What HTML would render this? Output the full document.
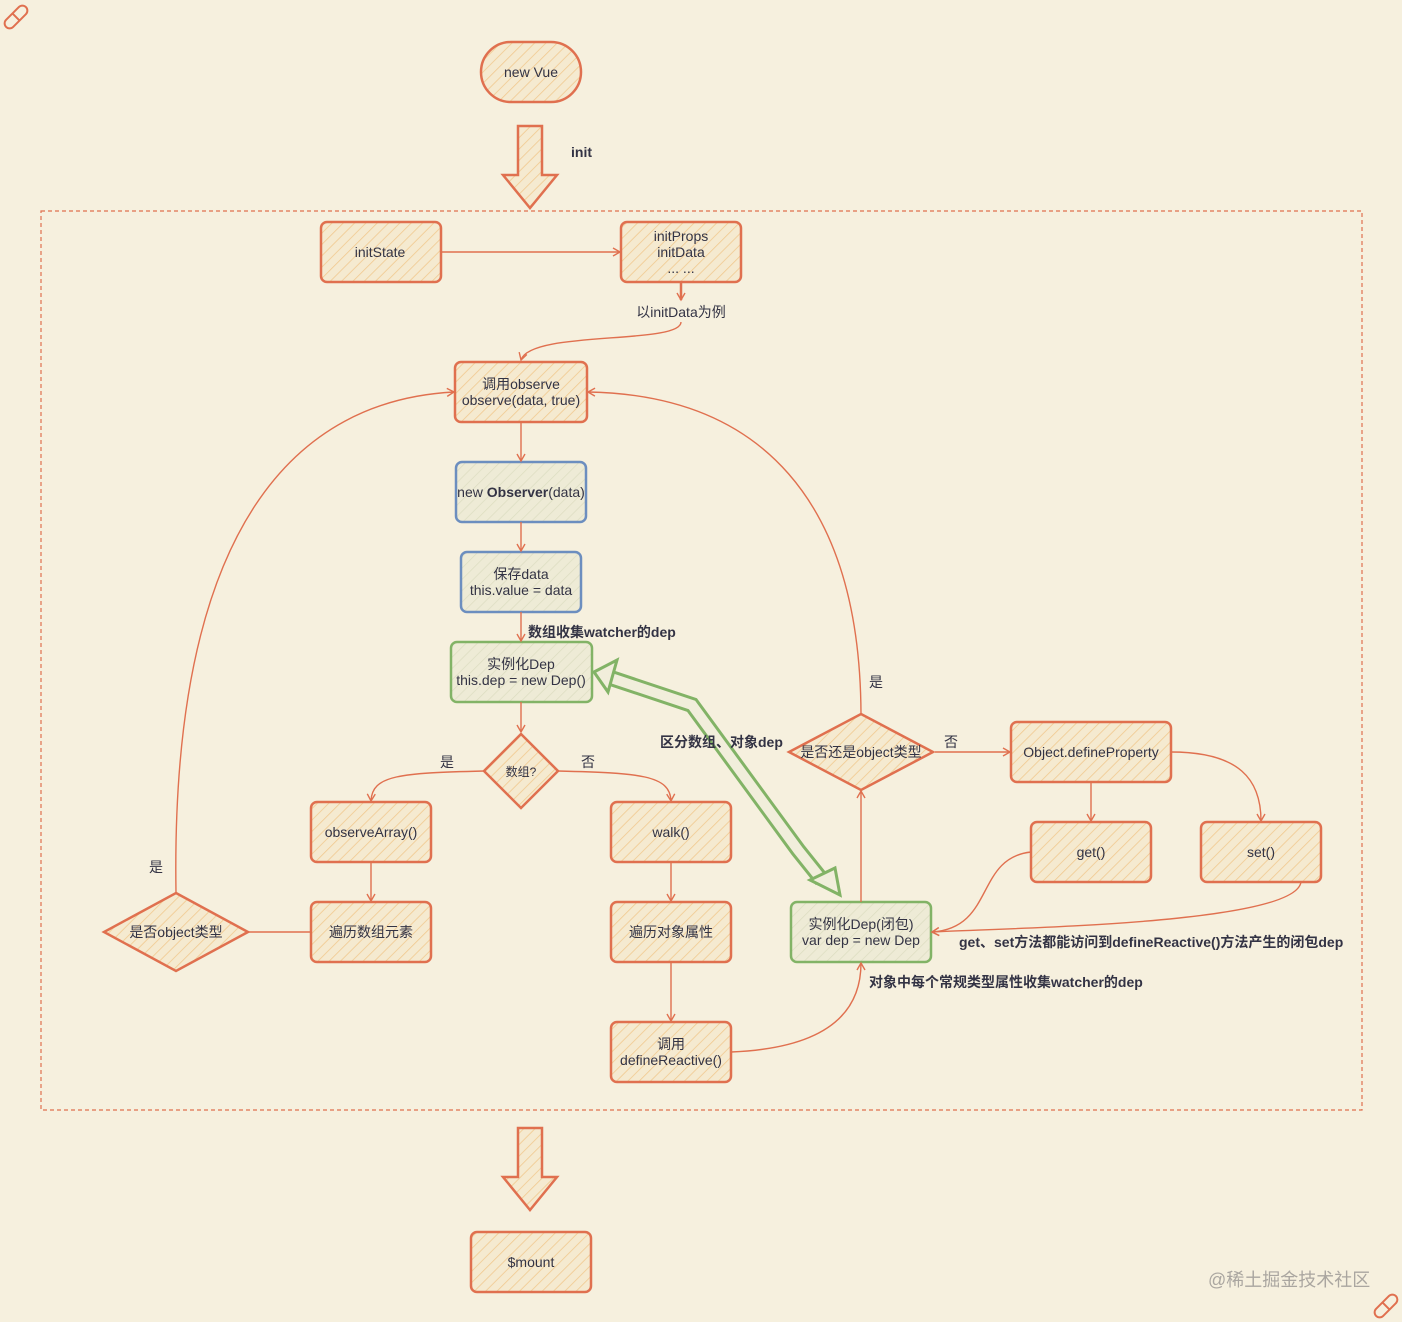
<!DOCTYPE html>
<html><head><meta charset="utf-8"><style>
html,body{margin:0;padding:0;background:#f6f0de;}
svg{display:block}
text{font-family:"Liberation Sans","Noto Sans CJK SC",sans-serif;fill:#333344;}
.b{font-weight:bold;}
</style></head><body>
<svg width="1402" height="1322" viewBox="0 0 1402 1322" xmlns="http://www.w3.org/2000/svg">
<defs>
<pattern id="h" width="8" height="8" patternUnits="userSpaceOnUse" patternTransform="rotate(45)">
<rect width="8" height="8" fill="#f5ead0"/>
<line x1="0" y1="0" x2="0" y2="8" stroke="#f1c98f" stroke-width="1.6"/>
</pattern>
<pattern id="g" width="8" height="8" patternUnits="userSpaceOnUse" patternTransform="rotate(45)">
<rect width="8" height="8" fill="#eeebd6"/>
<line x1="0" y1="0" x2="0" y2="8" stroke="#dcdcc0" stroke-width="1.4"/>
</pattern>
<marker id="a" markerWidth="10" markerHeight="10" refX="8" refY="5" orient="auto" markerUnits="userSpaceOnUse">
<path d="M1,1 L8,5 L1,9" fill="none" stroke="#e0704f" stroke-width="1.4"/>
</marker>
</defs>
<rect width="1402" height="1322" fill="#f6f0de"/>

<!-- pencil icons -->
<g transform="translate(16,17) rotate(-45)" fill="none" stroke="#e0704f" stroke-width="2">
<rect x="-14" y="-5" width="28" height="10" rx="5"/><line x1="0" y1="-5" x2="0" y2="5"/></g>
<g transform="translate(1386,1306) rotate(-45)" fill="none" stroke="#e0704f" stroke-width="2">
<rect x="-14" y="-5" width="28" height="10" rx="5"/><line x1="0" y1="-5" x2="0" y2="5"/></g>

<!-- dashed container -->
<rect x="41" y="211" width="1321" height="899" fill="none" stroke="#e0704f" stroke-width="1.2" stroke-dasharray="4,3"/>

<g stroke="#e0704f" stroke-width="2.5" fill="url(#h)">
<rect x="481" y="42" width="100" height="60" rx="30"/>
<polygon points="518,126 542,126 542,175 557,175 530,208 503,175 518,175"/>
<polygon points="518,1128 542,1128 542,1177 557,1177 530,1210 503,1177 518,1177"/>
<rect x="321" y="222" width="120" height="60" rx="6"/>
<rect x="621" y="222" width="120" height="60" rx="6"/>
<rect x="455" y="362" width="132" height="60" rx="6"/>
<polygon points="521,734 558,771 521,808 484,771"/>
<rect x="311" y="802" width="120" height="60" rx="6"/>
<rect x="611" y="802" width="120" height="60" rx="6"/>
<rect x="311" y="902" width="120" height="60" rx="6"/>
<rect x="611" y="902" width="120" height="60" rx="6"/>
<rect x="611" y="1022" width="120" height="60" rx="6"/>
<polygon points="176,893 248,932 176,971 104,932"/>
<polygon points="861,714 933,752 861,790 789,752"/>
<rect x="1011" y="722" width="160" height="60" rx="6"/>
<rect x="1031" y="822" width="120" height="60" rx="6"/>
<rect x="1201" y="822" width="120" height="60" rx="6"/>
<rect x="471" y="1232" width="120" height="60" rx="6"/>
</g>
<g stroke="#6c8ebf" stroke-width="2.5" fill="url(#g)">
<rect x="456" y="462" width="130" height="60" rx="6"/>
<rect x="461" y="552" width="120" height="60" rx="6"/>
</g>
<g stroke="#82b366" stroke-width="2.5" fill="url(#g)">
<rect x="451" y="642" width="141" height="60" rx="6"/>
<rect x="791" y="902" width="140" height="60" rx="6"/>
</g>

<!-- connectors -->
<g stroke="#e0704f" stroke-width="1.4" fill="none" marker-end="url(#a)">
<line x1="441" y1="252" x2="620" y2="252"/>
<line x1="681" y1="282" x2="681" y2="300" stroke-width="2.5"/>
<path d="M681,322 C681,345 530,330 521,360"/>
<line x1="521" y1="422" x2="521" y2="461"/>
<line x1="521" y1="522" x2="521" y2="551"/>
<line x1="521" y1="612" x2="521" y2="641"/>
<line x1="521" y1="702" x2="521" y2="732"/>
<path d="M484,771 C400,773 372,775 371,801"/>
<path d="M558,771 C640,773 670,775 671,801"/>
<line x1="371" y1="862" x2="371" y2="901"/>
<line x1="671" y1="862" x2="671" y2="901"/>
<line x1="671" y1="962" x2="671" y2="1021"/>
<path d="M176,893 C170,520 300,400 454,392"/>
<path d="M731,1052 C830,1048 861,1010 861,963"/>
<line x1="861" y1="902" x2="861" y2="791"/>
<path d="M861,714 C860,500 760,395 588,392"/>
<line x1="935" y1="752" x2="1010" y2="752"/>
<line x1="1091" y1="782" x2="1091" y2="821"/>
<path d="M1171,752 C1240,752 1261,780 1261,821"/>
<path d="M1031,852 C975,858 995,928 932,932"/>
<path d="M1301,882 C1295,925 1000,928 932,932"/>
</g>
<line x1="248" y1="932" x2="311" y2="932" stroke="#e0704f" stroke-width="1.4"/>

<!-- green double arrow -->
<g fill="none" stroke-linejoin="miter">
<polyline points="608,677 692,705 798,850 822,880" stroke="#82b366" stroke-width="16"/>
<polyline points="608,677 692,705 798,850 822,880" stroke="#f1eedb" stroke-width="10"/>
<polygon points="594,672 617,660 608,692" fill="#f1eedb" stroke="#82b366" stroke-width="3"/>
<polygon points="840,895 810,880 835,868" fill="#f1eedb" stroke="#82b366" stroke-width="3"/>
</g>

<!-- texts -->
<g font-size="14" text-anchor="middle">
<text x="531" y="77">new Vue</text>
<text x="380" y="257">initState</text>
<text x="681" y="241">initProps</text>
<text x="681" y="257">initData</text>
<text x="681" y="273">... ...</text>
<text x="681" y="317">以initData为例</text>
<text x="521" y="389">调用observe</text>
<text x="521" y="405">observe(data, true)</text>
<text x="521" y="497">new <tspan class="b">Observer</tspan>(data)</text>
<text x="521" y="579">保存data</text>
<text x="521" y="595">this.value = data</text>
<text x="521" y="669">实例化Dep</text>
<text x="521" y="685">this.dep = new Dep()</text>
<text x="521" y="776" font-size="12">数组?</text>
<text x="371" y="837">observeArray()</text>
<text x="671" y="837">walk()</text>
<text x="371" y="937">遍历数组元素</text>
<text x="671" y="937">遍历对象属性</text>
<text x="671" y="1049">调用</text>
<text x="671" y="1065">defineReactive()</text>
<text x="176" y="937">是否object类型</text>
<text x="861" y="757">是否还是object类型</text>
<text x="1091" y="757">Object.defineProperty</text>
<text x="1091" y="857">get()</text>
<text x="1261" y="857">set()</text>
<text x="861" y="929">实例化Dep(闭包)</text>
<text x="861" y="945">var dep = new Dep</text>
<text x="531" y="1267">$mount</text>
<text x="447" y="767">是</text>
<text x="588" y="767">否</text>
<text x="156" y="872">是</text>
<text x="876" y="687">是</text>
<text x="951" y="747">否</text>
</g>
<g font-size="14" class="b">
<text x="571" y="157" class="b">init</text>
<text x="528" y="637" class="b">数组收集watcher的dep</text>
<text x="660" y="747" class="b">区分数组、对象dep</text>
<text x="959" y="947" class="b">get、set方法都能访问到defineReactive()方法产生的闭包dep</text>
<text x="869" y="987" class="b">对象中每个常规类型属性收集watcher的dep</text>
</g>
<text x="1208" y="1286" font-size="18" style="fill:#aaa6a0">@稀土掘金技术社区</text>
</svg>
</body></html>
